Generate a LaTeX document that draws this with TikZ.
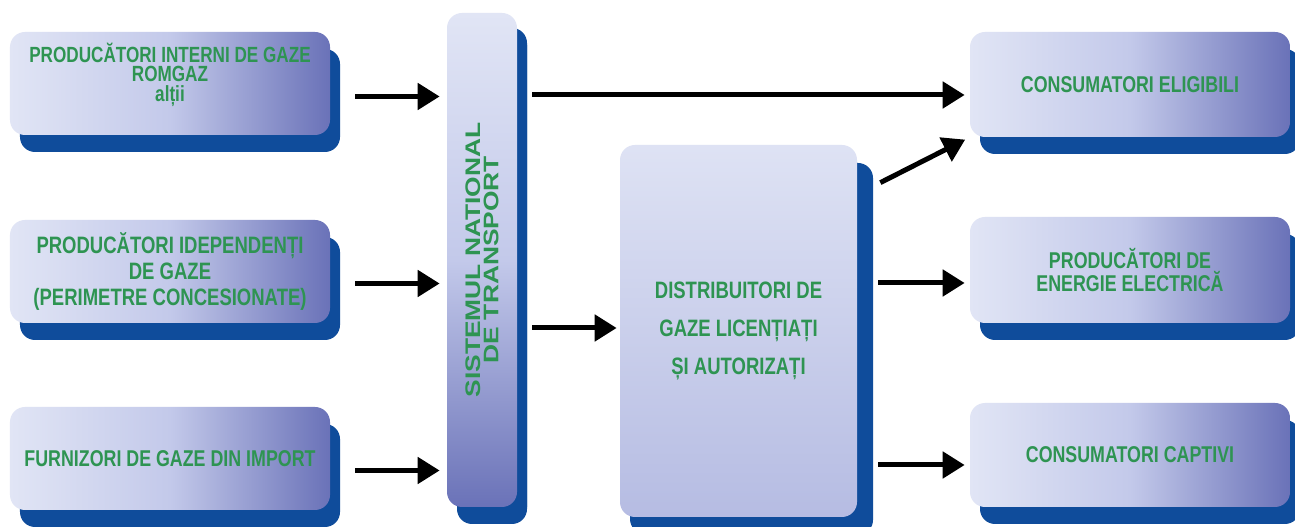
\documentclass[tikz,border=0pt]{standalone}
\usepackage{fontspec}
\usepackage{tikz}
\usetikzlibrary{shapes,arrows.meta,positioning,calc,shadows}
\usepackage{xcolor}
\newfontfamily\condfont[FakeStretch=0.78]{Liberation Sans Bold}
\newfontfamily\widefont[FakeStretch=1.25]{Liberation Sans Bold}
\definecolor{boxlight}{HTML}{E1E5F5}
\definecolor{boxmid}{HTML}{C3C9EA}
\definecolor{boxdark}{HTML}{6A72B8}
\definecolor{shadeblue}{HTML}{0F4C9B}
\definecolor{textgreen}{HTML}{2E9452}
\tikzset{
  gasbox/.style={rounded corners=0.3cm, align=center, text=textgreen,
    minimum width=6.4cm, minimum height=2.06cm,
    left color=boxlight, right color=boxdark, middle color=boxmid,
    general shadow={fill=shadeblue, shadow xshift=0.2cm, shadow yshift=-0.34cm},
    font=\condfont\fontsize{13}{14}\selectfont},
  flow/.style={line width=0.1cm, -{Triangle[length=0.44cm,width=0.52cm]}, shorten >=0.1cm}
}
\begin{document}
\begin{tikzpicture}
            \fill[white] (0,0) rectangle (25.9,10.54);
            \useasboundingbox (0,0) rectangle (25.9,10.54);
            % sources
            \node[gasbox, text depth=0.45cm, font=\condfont\fontsize{12.5}{11}\selectfont] (prodint) at (3.4,8.87) {PRODUCĂTORI INTERNI DE GAZE\\ROMGAZ\\alții};
            \node[gasbox, font=\condfont\fontsize{13.5}{15}\selectfont] (prodind) at (3.4,5.11) {PRODUCĂTORI IDEPENDENȚI\\DE GAZE\\(PERIMETRE CONCESIONATE)};
            \node[gasbox] (import) at (3.4,1.37) {FURNIZORI DE GAZE DIN IMPORT};
            
            % transport system
            \node[gasbox, minimum width=1.4cm, minimum height=9.88cm,
                  top color=boxlight, bottom color=boxdark, middle color=boxmid,
                  general shadow={fill=shadeblue, shadow xshift=0.2cm, shadow yshift=-0.3cm}] (snt) at (9.64,5.34) {};
            \node[rotate=90, align=center, text=textgreen, font=\widefont\fontsize{12}{10.5}\selectfont] (sntlabel) at (snt.center) {SISTEMUL NATIONAL\\DE TRANSPORT};
            
            % distributors
            \node[gasbox, minimum width=4.74cm, minimum height=7.44cm,
                  top color=boxlight!90!boxmid, bottom color=boxmid!85!boxdark,
                  general shadow={fill=shadeblue, shadow xshift=0.32cm, shadow yshift=-0.36cm},
                  font=\condfont\fontsize{13.5}{21.5}\selectfont] (distrib) at (14.77,3.92) {DISTRIBUITORI DE\\GAZE LICENȚIAȚI\\ȘI AUTORIZAȚI};
            
            % consumers
            \node[gasbox, minimum height=2.1cm] (eligibil) at (22.6,8.85) {CONSUMATORI ELIGIBILI};
            \node[gasbox, minimum height=2.12cm, font=\condfont\fontsize{13}{11.5}\selectfont] (energie) at (22.6,5.14) {PRODUCĂTORI DE\\ENERGIE ELECTRICĂ};
            \node[gasbox, minimum height=2.08cm] (captiv) at (22.6,1.44) {CONSUMATORI CAPTIVI};
            
            % flows
            \draw[flow, shorten >=0.14cm] ($(prodint.east)+(0.5,-0.26)$) -- ($(prodint.east -| snt.west)+(0,-0.26)$);
            \draw[flow, shorten >=0.14cm] ($(prodind.east)+(0.5,-0.24)$) -- ($(prodind.east -| snt.west)+(0,-0.24)$);
            \draw[flow, shorten >=0.14cm] ($(import.east)+(0.5,-0.24)$) -- ($(import.east -| snt.west)+(0,-0.24)$);
            \draw[flow] ($(eligibil.west -| snt.east)+(0.3,-0.21)$) -- ($(eligibil.west)+(0,-0.21)$);
            \draw[flow, shorten >=0.06cm] ($(distrib.west -| snt.east)+(0.3,0.06)$) -- ($(distrib.west)+(0,0.06)$);
            \draw[flow] ($(distrib.north east)+(0.46,-0.76)$) -- (eligibil.south west);
            \draw[flow] ($(energie.west -| distrib.east)+(0.42,-0.26)$) -- ($(energie.west)+(0,-0.26)$);
            \draw[flow] ($(captiv.west -| distrib.east)+(0.42,-0.2)$) -- ($(captiv.west)+(0,-0.2)$);
        \end{tikzpicture}
\end{document}
